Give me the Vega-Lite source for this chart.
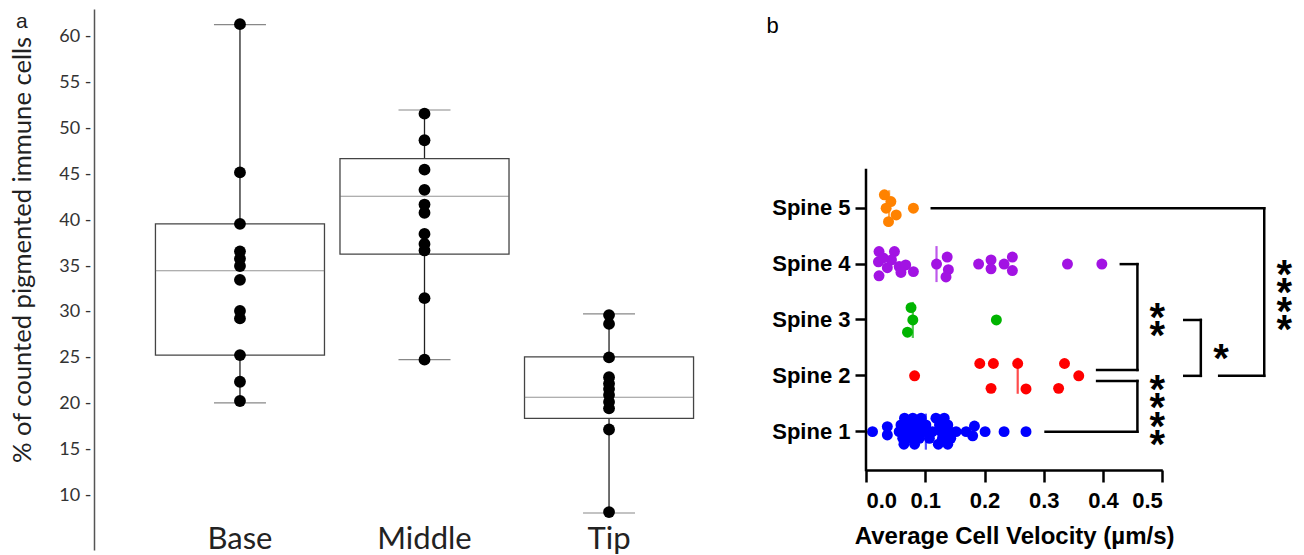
{
  "$schema": "https://vega.github.io/schema/vega-lite/v6.json",
  "background": "white",
  "padding": {"left": 10, "top": 9, "right": 0, "bottom": 0},
  "spacing": 11,
  "config": {"view": {"stroke": null}, "axis": {"grid": false}},
  "datasets": {
    "pigment": [
      {"cat": "Base", "val": 61.35}, {"cat": "Base", "val": 45.2}, {"cat": "Base", "val": 39.6}, {"cat": "Base", "val": 36.6},
      {"cat": "Base", "val": 35.8}, {"cat": "Base", "val": 35.0}, {"cat": "Base", "val": 33.5}, {"cat": "Base", "val": 30.1},
      {"cat": "Base", "val": 29.3}, {"cat": "Base", "val": 25.3}, {"cat": "Base", "val": 22.4}, {"cat": "Base", "val": 20.3},
      {"cat": "Middle", "val": 51.6}, {"cat": "Middle", "val": 48.7}, {"cat": "Middle", "val": 45.5}, {"cat": "Middle", "val": 43.3},
      {"cat": "Middle", "val": 41.7}, {"cat": "Middle", "val": 40.8}, {"cat": "Middle", "val": 38.5}, {"cat": "Middle", "val": 37.4},
      {"cat": "Middle", "val": 36.7}, {"cat": "Middle", "val": 31.5}, {"cat": "Middle", "val": 24.8},
      {"cat": "Tip", "val": 29.66}, {"cat": "Tip", "val": 28.7}, {"cat": "Tip", "val": 25.05}, {"cat": "Tip", "val": 22.9},
      {"cat": "Tip", "val": 22.2}, {"cat": "Tip", "val": 21.6}, {"cat": "Tip", "val": 20.96}, {"cat": "Tip", "val": 20.2},
      {"cat": "Tip", "val": 19.5}, {"cat": "Tip", "val": 17.2}, {"cat": "Tip", "val": 8.2}
    ],
    "boxes": [
      {"cat": "Base", "lo": 20.1, "q1": 25.3, "med": 34.5, "q3": 39.6, "hi": 61.3},
      {"cat": "Middle", "lo": 24.8, "q1": 36.3, "med": 42.6, "q3": 46.7, "hi": 52.0},
      {"cat": "Tip", "lo": 8.1, "q1": 18.4, "med": 20.7, "q3": 25.1, "hi": 29.8}
    ],
    "velocity": [
      {"s": "Spine 5", "v": 0.031, "j": -0.48}, {"s": "Spine 5", "v": 0.042, "j": -0.24}, {"s": "Spine 5", "v": 0.034, "j": 0},
      {"s": "Spine 5", "v": 0.051, "j": 0.24}, {"s": "Spine 5", "v": 0.038, "j": 0.48}, {"s": "Spine 5", "v": 0.080, "j": 0},
      {"s": "Spine 4", "v": 0.022, "j": -0.45}, {"s": "Spine 4", "v": 0.048, "j": -0.45}, {"s": "Spine 4", "v": 0.021, "j": -0.08},
      {"s": "Spine 4", "v": 0.036, "j": 0.13}, {"s": "Spine 4", "v": 0.043, "j": -0.15}, {"s": "Spine 4", "v": 0.056, "j": 0.09},
      {"s": "Spine 4", "v": 0.067, "j": 0.03}, {"s": "Spine 4", "v": 0.080, "j": 0.27}, {"s": "Spine 4", "v": 0.059, "j": 0.30},
      {"s": "Spine 4", "v": 0.022, "j": 0.42}, {"s": "Spine 4", "v": 0.029, "j": -0.22},
      {"s": "Spine 4", "v": 0.119, "j": 0}, {"s": "Spine 4", "v": 0.137, "j": -0.25}, {"s": "Spine 4", "v": 0.139, "j": 0.2},
      {"s": "Spine 4", "v": 0.135, "j": 0.46},
      {"s": "Spine 4", "v": 0.190, "j": 0}, {"s": "Spine 4", "v": 0.211, "j": -0.15}, {"s": "Spine 4", "v": 0.211, "j": 0.17},
      {"s": "Spine 4", "v": 0.233, "j": 0}, {"s": "Spine 4", "v": 0.247, "j": -0.25}, {"s": "Spine 4", "v": 0.247, "j": 0.23},
      {"s": "Spine 4", "v": 0.340, "j": 0}, {"s": "Spine 4", "v": 0.398, "j": 0},
      {"s": "Spine 3", "v": 0.076, "j": -0.44}, {"s": "Spine 3", "v": 0.079, "j": 0}, {"s": "Spine 3", "v": 0.070, "j": 0.44},
      {"s": "Spine 3", "v": 0.220, "j": 0},
      {"s": "Spine 2", "v": 0.082, "j": 0}, {"s": "Spine 2", "v": 0.192, "j": -0.44}, {"s": "Spine 2", "v": 0.215, "j": -0.44},
      {"s": "Spine 2", "v": 0.256, "j": -0.44}, {"s": "Spine 2", "v": 0.335, "j": -0.44}, {"s": "Spine 2", "v": 0.359, "j": 0},
      {"s": "Spine 2", "v": 0.211, "j": 0.45}, {"s": "Spine 2", "v": 0.270, "j": 0.47}, {"s": "Spine 2", "v": 0.325, "j": 0.45},
      {"s": "Spine 1", "v": 0.011, "j": 0}, {"s": "Spine 1", "v": 0.036, "j": -0.18}, {"s": "Spine 1", "v": 0.036, "j": 0.12},
      {"s": "Spine 1", "v": 0.065, "j": -0.48}, {"s": "Spine 1", "v": 0.079, "j": -0.48}, {"s": "Spine 1", "v": 0.093, "j": -0.48},
      {"s": "Spine 1", "v": 0.118, "j": -0.48}, {"s": "Spine 1", "v": 0.132, "j": -0.48},
      {"s": "Spine 1", "v": 0.059, "j": -0.24}, {"s": "Spine 1", "v": 0.073, "j": -0.24}, {"s": "Spine 1", "v": 0.087, "j": -0.24},
      {"s": "Spine 1", "v": 0.101, "j": -0.24}, {"s": "Spine 1", "v": 0.124, "j": -0.24}, {"s": "Spine 1", "v": 0.138, "j": -0.24},
      {"s": "Spine 1", "v": 0.056, "j": 0}, {"s": "Spine 1", "v": 0.070, "j": 0}, {"s": "Spine 1", "v": 0.084, "j": 0},
      {"s": "Spine 1", "v": 0.098, "j": 0}, {"s": "Spine 1", "v": 0.112, "j": 0}, {"s": "Spine 1", "v": 0.127, "j": 0},
      {"s": "Spine 1", "v": 0.141, "j": 0}, {"s": "Spine 1", "v": 0.152, "j": 0},
      {"s": "Spine 1", "v": 0.062, "j": 0.24}, {"s": "Spine 1", "v": 0.076, "j": 0.24}, {"s": "Spine 1", "v": 0.090, "j": 0.24},
      {"s": "Spine 1", "v": 0.107, "j": 0.24}, {"s": "Spine 1", "v": 0.129, "j": 0.24}, {"s": "Spine 1", "v": 0.143, "j": 0.24},
      {"s": "Spine 1", "v": 0.064, "j": 0.45}, {"s": "Spine 1", "v": 0.082, "j": 0.45}, {"s": "Spine 1", "v": 0.122, "j": 0.45},
      {"s": "Spine 1", "v": 0.138, "j": 0.45},
      {"s": "Spine 1", "v": 0.169, "j": 0}, {"s": "Spine 1", "v": 0.183, "j": -0.2}, {"s": "Spine 1", "v": 0.180, "j": 0.15},
      {"s": "Spine 1", "v": 0.201, "j": 0}, {"s": "Spine 1", "v": 0.233, "j": 0}, {"s": "Spine 1", "v": 0.270, "j": 0}
    ],
    "medians": [
      {"s": "Spine 5", "v": 0.039}, {"s": "Spine 4", "v": 0.119}, {"s": "Spine 3", "v": 0.079},
      {"s": "Spine 2", "v": 0.256}, {"s": "Spine 1", "v": 0.101}
    ],
    "brackets": [
      {"x1": 0, "x2": 0, "y1": 0.314, "y2": 5.686},
      {"x1": 0.111, "x2": 0.672, "y1": 5, "y2": 5},
      {"x1": 0.672, "x2": 0.672, "y1": 5, "y2": 2},
      {"x1": 0.596, "x2": 0.672, "y1": 2, "y2": 2},
      {"x1": 0.430, "x2": 0.458, "y1": 4, "y2": 4},
      {"x1": 0.458, "x2": 0.458, "y1": 4, "y2": 2.105},
      {"x1": 0.390, "x2": 0.458, "y1": 2.105, "y2": 2.105},
      {"x1": 0.303, "x2": 0.458, "y1": 1, "y2": 1},
      {"x1": 0.458, "x2": 0.458, "y1": 1, "y2": 1.908},
      {"x1": 0.390, "x2": 0.458, "y1": 1.908, "y2": 1.908},
      {"x1": 0.537, "x2": 0.565, "y1": 3, "y2": 3},
      {"x1": 0.565, "x2": 0.565, "y1": 3, "y2": 2},
      {"x1": 0.537, "x2": 0.565, "y1": 2, "y2": 2}
    ],
    "stars": [
      {"x": 0.4916, "y": 3.215}, {"x": 0.4916, "y": 2.893},
      {"x": 0.4916, "y": 1.926}, {"x": 0.4916, "y": 1.603}, {"x": 0.4916, "y": 1.269}, {"x": 0.4916, "y": 0.941},
      {"x": 0.599, "y": 2.481},
      {"x": 0.706, "y": 3.985}, {"x": 0.706, "y": 3.657}, {"x": 0.706, "y": 3.328}, {"x": 0.706, "y": 3.0}
    ],
    "panel": [{"t": "b", "x": -0.168, "y": 8.139}]
  },
  "hconcat": [
    {
      "width": 661,
      "height": 541,
      "title": {"text": "a", "anchor": "start", "frame": "group", "dx": -78, "dy": 22.5, "offset": -17.5, "fontSize": 21, "font": "Liberation Sans", "fontWeight": "normal", "baseline": "alphabetic", "color": "#222"},
      "encoding": {
        "x": {
          "field": "cat", "type": "nominal",
          "scale": {"domain": ["Base", "Middle", "Tip"], "paddingInner": 0.084, "paddingOuter": 0.333},
          "axis": {"title": null, "domain": false, "ticks": false, "tickSize": 0, "labelAngle": 0, "labelPadding": -2, "labelBaseline": "alphabetic", "labelFont": "Lato", "labelFontSize": 31, "labelColor": "#222"}
        }
      },
      "layer": [
        {
          "data": {"name": "boxes"},
          "mark": {"type": "rule", "color": "#222", "strokeWidth": 1.3},
          "encoding": {
            "y": {
              "field": "lo", "type": "quantitative",
              "scale": {"domain": [4.07, 63], "nice": false, "zero": false},
              "axis": {"title": "% of counted pigmented immune cells", "titleFont": "Lato", "titleFontSize": 25.6, "titleFontWeight": "normal", "titleColor": "#222", "titleY": 240.5, "titlePadding": 23, "values": [10, 15, 20, 25, 30, 35, 40, 45, 50, 55, 60], "labelExpr": "datum.label + ' -'", "labelFont": "Lato", "labelFontSize": 18, "labelColor": "#333", "labelPadding": 3, "ticks": false, "domainColor": "#555", "domainWidth": 1.5}
            },
            "y2": {"field": "hi"}
          }
        },
        {
          "data": {"name": "boxes"},
          "mark": {"type": "bar", "fill": "white", "stroke": "#444", "strokeWidth": 1.3},
          "encoding": {"y": {"field": "q1", "type": "quantitative"}, "y2": {"field": "q3"}}
        },
        {
          "data": {"name": "boxes"},
          "mark": {"type": "tick", "size": 169, "thickness": 1, "color": "#666"},
          "encoding": {"y": {"field": "med", "type": "quantitative"}}
        },
        {
          "data": {"name": "boxes"},
          "mark": {"type": "tick", "size": 52, "thickness": 1.2, "color": "#555"},
          "encoding": {"y": {"field": "lo", "type": "quantitative"}}
        },
        {
          "data": {"name": "boxes"},
          "mark": {"type": "tick", "size": 52, "thickness": 1.2, "color": "#555"},
          "encoding": {"y": {"field": "hi", "type": "quantitative"}}
        },
        {
          "data": {"name": "pigment"},
          "mark": {"type": "circle", "size": 140, "color": "#000", "opacity": 1},
          "encoding": {"y": {"field": "val", "type": "quantitative"}}
        }
      ]
    },
    {
      "width": 296.3,
      "height": 461,
      "resolve": {"scale": {"y": "independent"}, "axis": {"y": "independent"}},
      "layer": [
        {
          "data": {"name": "medians"},
          "mark": {"type": "tick", "size": 36, "thickness": 2.2},
          "encoding": {
            "x": {
              "field": "v", "type": "quantitative", "scale": {"domain": [0, 0.5], "nice": false, "zero": false},
              "axis": {"values": [0, 0.1, 0.2, 0.3, 0.4, 0.5], "format": ".1f", "title": "Average Cell Velocity (µm/s)", "titleFont": "Liberation Sans", "titleFontSize": 24, "titleFontWeight": "bold", "titleColor": "#000", "titlePadding": 13, "labelFont": "Liberation Sans", "labelFontSize": 22, "labelFontWeight": "bold", "labelColor": "#000", "labelPadding": 8, "tickSize": 12, "tickWidth": 2.5, "tickColor": "#000", "domainColor": "#000", "domainWidth": 2.5}
            },
            "y": {"field": "s", "type": "nominal", "scale": {"domain": ["_a", "_b", "Spine 5", "Spine 4", "Spine 3", "Spine 2", "Spine 1"], "paddingInner": 0, "paddingOuter": 0.627, "align": 0.851}, "axis": null},
            "color": {"field": "s", "type": "nominal", "scale": {"domain": ["Spine 1", "Spine 2", "Spine 3", "Spine 4", "Spine 5"], "range": ["#0000ff", "#ff0000", "#00b400", "#a213e3", "#ff8200"]}, "legend": null}
          }
        },
        {
          "data": {"name": "velocity"},
          "mark": {"type": "circle", "size": 120, "opacity": 1},
          "encoding": {
            "x": {
              "field": "v", "type": "quantitative", "scale": {"domain": [0, 0.5], "nice": false, "zero": false},
              "axis": {"values": [0, 0.1, 0.2, 0.3, 0.4, 0.5], "format": ".1f", "title": "Average Cell Velocity (µm/s)", "titleFont": "Liberation Sans", "titleFontSize": 24, "titleFontWeight": "bold", "titleColor": "#000", "titlePadding": 13, "labelFont": "Liberation Sans", "labelFontSize": 22, "labelFontWeight": "bold", "labelColor": "#000", "labelPadding": 8, "tickSize": 12, "tickWidth": 2.5, "tickColor": "#000", "domainColor": "#000", "domainWidth": 2.5}
            },
            "y": {
              "field": "s", "type": "nominal",
              "scale": {"domain": ["_a", "_b", "Spine 5", "Spine 4", "Spine 3", "Spine 2", "Spine 1"], "paddingInner": 0, "paddingOuter": 0.627, "align": 0.851},
              "axis": {"title": null, "domain": false, "values": ["Spine 5", "Spine 4", "Spine 3", "Spine 2", "Spine 1"], "labelFont": "Liberation Sans", "labelFontSize": 22, "labelFontWeight": "bold", "labelColor": "#000", "labelPadding": 5, "tickSize": 11, "tickWidth": 2.5, "tickColor": "#000"}
            },
            "yOffset": {"field": "j", "type": "quantitative", "scale": {"domain": [-1, 1]}},
            "color": {"field": "s", "type": "nominal", "scale": {"domain": ["Spine 1", "Spine 2", "Spine 3", "Spine 4", "Spine 5"], "range": ["#0000ff", "#ff0000", "#00b400", "#a213e3", "#ff8200"]}, "legend": null}
          }
        },
        {
          "data": {"name": "brackets"},
          "mark": {"type": "rule", "color": "#000", "strokeWidth": 2.5, "strokeCap": "square"},
          "encoding": {
            "x": {
              "field": "x1", "type": "quantitative", "scale": {"domain": [0, 0.5], "nice": false, "zero": false},
              "axis": {"values": [0, 0.1, 0.2, 0.3, 0.4, 0.5], "format": ".1f", "title": "Average Cell Velocity (µm/s)", "titleFont": "Liberation Sans", "titleFontSize": 24, "titleFontWeight": "bold", "titleColor": "#000", "titlePadding": 13, "labelFont": "Liberation Sans", "labelFontSize": 22, "labelFontWeight": "bold", "labelColor": "#000", "labelPadding": 8, "tickSize": 12, "tickWidth": 2.5, "tickColor": "#000", "domainColor": "#000", "domainWidth": 2.5}
            },
            "x2": {"field": "x2"},
            "y": {"field": "y1", "type": "quantitative", "scale": {"domain": [0.314, 8.568], "nice": false, "zero": false}, "axis": null},
            "y2": {"field": "y2"}
          }
        },
        {
          "data": {"name": "stars"},
          "mark": {"type": "text", "text": "*", "font": "Liberation Sans", "fontWeight": "bold", "fontSize": 40, "baseline": "middle", "align": "center", "dy": 11, "color": "#000"},
          "encoding": {
            "x": {
              "field": "x", "type": "quantitative", "scale": {"domain": [0, 0.5], "nice": false, "zero": false},
              "axis": {"values": [0, 0.1, 0.2, 0.3, 0.4, 0.5], "format": ".1f", "title": "Average Cell Velocity (µm/s)", "titleFont": "Liberation Sans", "titleFontSize": 24, "titleFontWeight": "bold", "titleColor": "#000", "titlePadding": 13, "labelFont": "Liberation Sans", "labelFontSize": 22, "labelFontWeight": "bold", "labelColor": "#000", "labelPadding": 8, "tickSize": 12, "tickWidth": 2.5, "tickColor": "#000", "domainColor": "#000", "domainWidth": 2.5}
            },
            "y": {"field": "y", "type": "quantitative", "scale": {"domain": [0.314, 8.568], "nice": false, "zero": false}, "axis": null}
          }
        },
        {
          "data": {"name": "panel"},
          "mark": {"type": "text", "font": "Liberation Sans", "fontSize": 22, "baseline": "alphabetic", "align": "left", "color": "#000"},
          "encoding": {
            "text": {"field": "t"},
            "x": {
              "field": "x", "type": "quantitative", "scale": {"domain": [0, 0.5], "nice": false, "zero": false},
              "axis": {"values": [0, 0.1, 0.2, 0.3, 0.4, 0.5], "format": ".1f", "title": "Average Cell Velocity (µm/s)", "titleFont": "Liberation Sans", "titleFontSize": 24, "titleFontWeight": "bold", "titleColor": "#000", "titlePadding": 13, "labelFont": "Liberation Sans", "labelFontSize": 22, "labelFontWeight": "bold", "labelColor": "#000", "labelPadding": 8, "tickSize": 12, "tickWidth": 2.5, "tickColor": "#000", "domainColor": "#000", "domainWidth": 2.5}
            },
            "y": {"field": "y", "type": "quantitative", "scale": {"domain": [0.314, 8.568], "nice": false, "zero": false}, "axis": null}
          }
        }
      ]
    }
  ]
}
